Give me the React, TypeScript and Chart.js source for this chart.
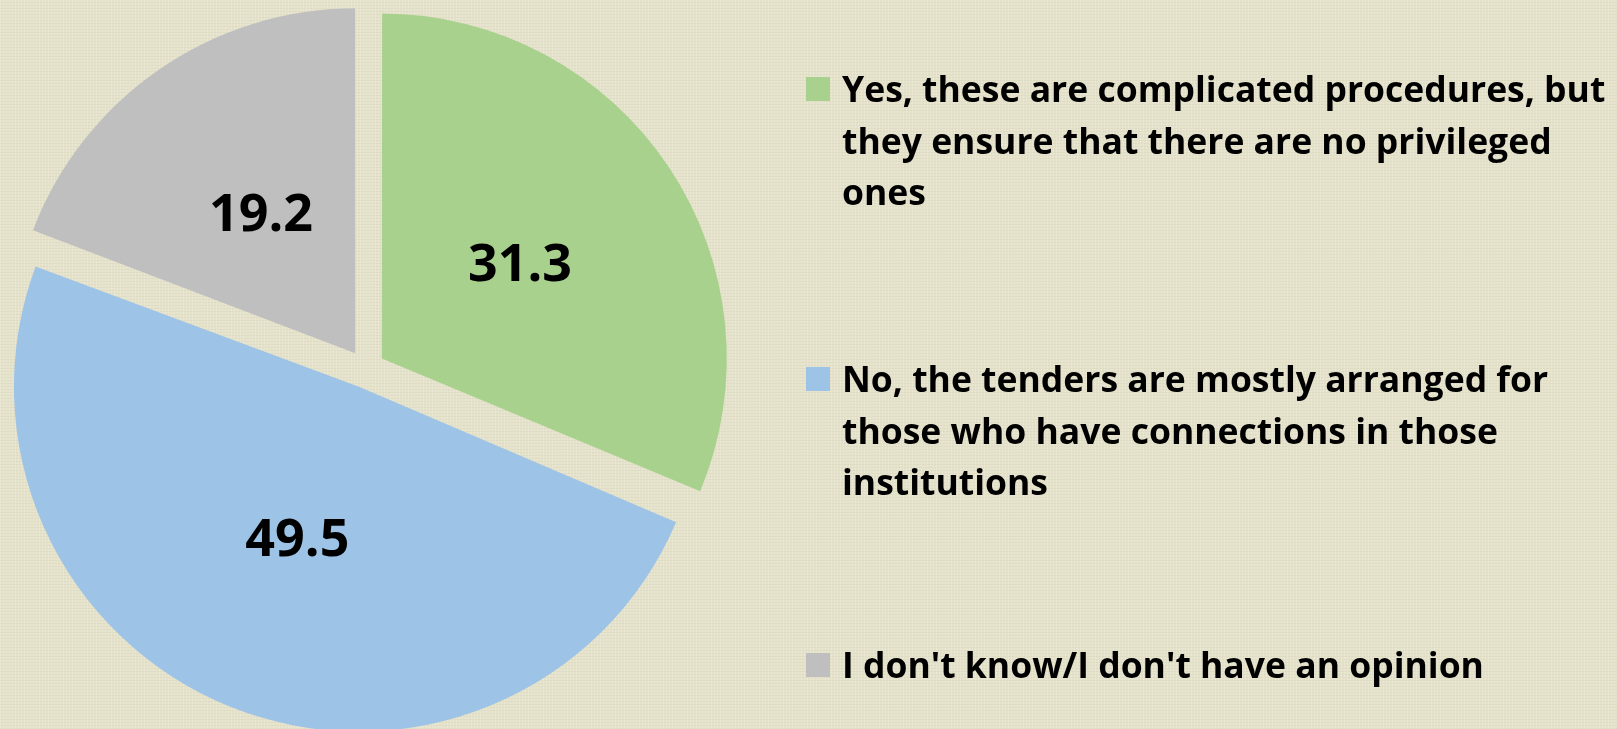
import React, { useEffect, useRef } from "react";
import { Chart, registerables } from "chart.js";

Chart.register(...registerables);

const categories: string[][] = [
  ["Yes, these are complicated procedures, but", "they ensure that there are no privileged", "ones"],
  ["No, the tenders are mostly arranged for", "those who have connections in those", "institutions"],
  ["I don't know/I don't have an opinion"],
];
const values: number[] = [31.3, 49.5, 19.2];
const valueLabels: string[] = ["31.3", "49.5", "19.2"];
const colors: string[] = ["#A9D18E", "#9DC3E6", "#BFBFBF"];

const W = 1617;
const H = 729;
const FONT = "'Open Sans', 'DejaVu Sans', sans-serif";
const RADIUS = 345;
// Chart.js translates an exploded arc by offset / 4
const EXPLODE = 19;

// Chart.js also grows the radius of exploded arcs; undo that so all slices share one radius
const equalRadiusPlugin = {
  id: "equalRadius",
  beforeDatasetsDraw(chart: any) {
    const meta = chart.getDatasetMeta(0);
    meta.data.forEach((arc: any) => {
      const off = (arc.options.offset || 0) / 4;
      const fix = 1 - Math.sin(Math.min(Math.PI, arc.circumference || 0));
      arc.outerRadius = RADIUS - off * fix;
    });
  },
};

const valueLabelPlugin = {
  id: "valueLabels",
  afterDatasetsDraw(chart: any) {
    const ctx = chart.ctx;
    const meta = chart.getDatasetMeta(0);
    ctx.save();
    ctx.font = `bold 52px ${FONT}`;
    ctx.fillStyle = "#000";
    ctx.textAlign = "center";
    ctx.textBaseline = "middle";
    meta.data.forEach((arc: any, i: number) => {
      const mid = (arc.startAngle + arc.endAngle) / 2;
      const r = (RADIUS + EXPLODE) / 2 + 3;
      ctx.fillText(valueLabels[i], arc.x + Math.cos(mid) * r, arc.y + Math.sin(mid) * r);
    });
    ctx.restore();
  },
};

const legendPlugin = {
  id: "sideLegend",
  afterDraw(chart: any) {
    const ctx = chart.ctx;
    const firstBaselines = [102, 392, 678];
    const lineGap = 51.5;
    const box = 24;
    const boxX = 806;
    const textX = 842;
    ctx.save();
    ctx.font = `bold 35.5px ${FONT}`;
    ctx.textAlign = "left";
    ctx.textBaseline = "alphabetic";
    categories.forEach((lines, i) => {
      const b0 = firstBaselines[i];
      ctx.fillStyle = colors[i];
      ctx.fillRect(boxX, b0 - box - 1, box, box);
      ctx.fillStyle = "#000";
      lines.forEach((ln, j) => {
        ctx.fillText(ln, textX, b0 + j * lineGap);
      });
    });
    ctx.restore();
  },
};

export default function App() {
  const ref = useRef<HTMLCanvasElement>(null);
  useEffect(() => {
    if (!ref.current) return;
    const chart = new Chart(ref.current, {
      type: "pie",
      data: {
        labels: categories.map((c) => c.join(" ")),
        datasets: [
          {
            data: values,
            backgroundColor: colors,
            borderWidth: 0,
            offset: EXPLODE * 4,
            radius: RADIUS,
            clip: false as any,
          } as any,
        ],
      },
      options: {
        responsive: false,
        animation: false,
        layout: { padding: { left: 0, right: W - 732, top: 9, bottom: 0 } },
        plugins: {
          legend: { display: false },
          tooltip: { enabled: false },
        },
      },
      plugins: [equalRadiusPlugin, valueLabelPlugin, legendPlugin],
    });
    return () => chart.destroy();
  }, []);

  return (
    <div
      style={{
        position: "fixed",
        left: 0,
        top: 0,
        width: W,
        height: H,
        backgroundColor: "#E5E2CB",
        backgroundImage:
          "repeating-linear-gradient(0deg, rgba(120,110,80,0.06) 0px, rgba(120,110,80,0.06) 1px, transparent 1px, transparent 3px), repeating-linear-gradient(90deg, rgba(255,255,245,0.18) 0px, rgba(255,255,245,0.18) 1px, transparent 1px, transparent 3px)",
        overflow: "hidden",
      }}
    >
      <canvas ref={ref} width={W} height={H} style={{ display: "block" }} />
    </div>
  );
}
